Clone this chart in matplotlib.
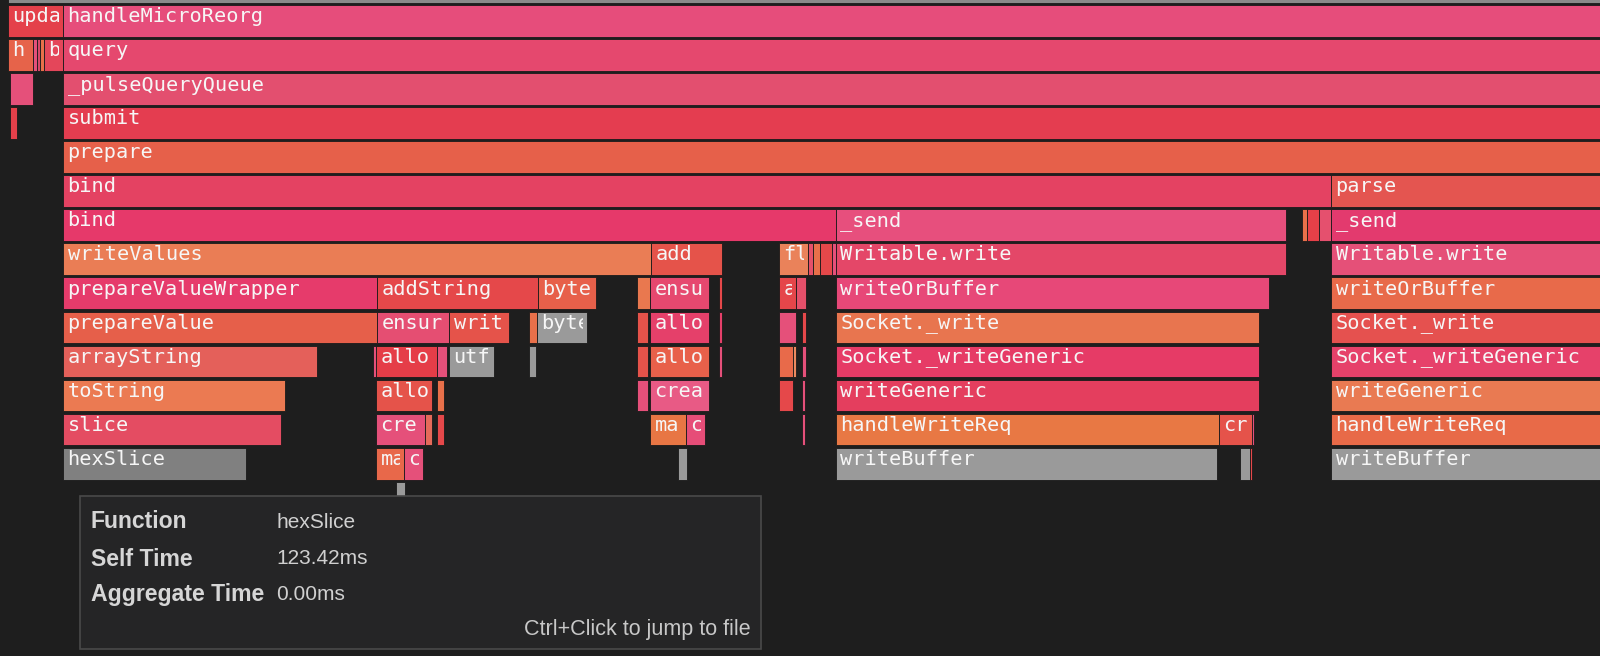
import math
import matplotlib
matplotlib.use("Agg")
import matplotlib.pyplot as plt
from matplotlib.patches import Rectangle

# flame chart frames: name, stack depth, start / end (ms), colour
names = [
    "",
    "updateState", "handleMicroReorg",
    "handle", "", "", "", "bind", "query",
    "", "_pulseQueryQueue",
    "", "submit",
    "prepare",
    "bind", "parse",
    "bind", "_send", "", "", "", "_send",
    "writeValues", "add", "flush", "", "", "", "", "Writable.write", "Writable.write",
    "prepareValueWrapper", "addString", "byteLength", "", "ensureCapacity", "", "alloc", "",
    "writeOrBuffer", "writeOrBuffer",
    "prepareValue", "ensureBuffer", "write", "", "byteLength", "", "allocate", "", "", "",
    "Socket._write", "Socket._write",
    "arrayString", "", "allocate", "", "utf8Write", "", "", "allocate", "", "", "", "",
    "Socket._writeGeneric", "Socket._writeGeneric",
    "toString", "allocate", "", "", "createPool", "", "", "writeGeneric", "writeGeneric",
    "slice", "createPool", "", "", "makeBuffer", "copy", "", "handleWriteReq", "createWriteReq", "",
    "handleWriteReq",
    "hexSlice", "makeBuffer", "copy", "", "writeBuffer", "", "", "writeBuffer",
    "",
]
depth = [
    -1,
    0, 0,
    1, 1, 1, 1, 1, 1,
    2, 2,
    3, 3,
    4,
    5, 5,
    6, 6, 6, 6, 6, 6,
    7, 7, 7, 7, 7, 7, 7, 7, 7,
    8, 8, 8, 8, 8, 8, 8, 8, 8, 8,
    9, 9, 9, 9, 9, 9, 9, 9, 9, 9, 9, 9,
    10, 10, 10, 10, 10, 10, 10, 10, 10, 10, 10, 10, 10, 10,
    11, 11, 11, 11, 11, 11, 11, 11, 11,
    12, 12, 12, 12, 12, 12, 12, 12, 12, 12, 12,
    13, 13, 13, 13, 13, 13, 13, 13,
    14,
]
start = [
    8,
    8, 63,
    8, 33, 37, 40, 44, 63,
    10, 63,
    10, 63,
    63,
    63, 1331,
    63, 836, 1302, 1307, 1319, 1331,
    63, 651, 779, 808, 813, 820, 832, 836, 1331,
    63, 377, 538, 637, 650, 719, 779, 796, 836, 1331,
    63, 377, 449, 529, 537, 637, 650, 719, 779, 802, 836, 1331,
    63, 373, 376, 437, 449, 529, 637, 650, 719, 779, 793, 802, 836, 1331,
    63, 376, 437, 637, 650, 779, 802, 836, 1331,
    63, 376, 425, 437, 650, 686, 802, 836, 1219, 1252, 1331,
    63, 376, 404, 678, 836, 1240, 1250, 1331,
    396,
]
end = [
    1600,
    63, 1600,
    33, 37, 40, 44, 63, 1600,
    33, 1600,
    17, 1600,
    1600,
    1331, 1600,
    836, 1286, 1307, 1319, 1331, 1600,
    651, 722, 808, 813, 820, 832, 836, 1286, 1600,
    377, 538, 596, 650, 709, 722, 796, 806, 1269, 1600,
    377, 449, 509, 537, 587, 648, 709, 722, 796, 806, 1259, 1600,
    317, 376, 437, 447, 494, 536, 648, 709, 722, 793, 796, 806, 1259, 1600,
    285, 432, 444, 648, 709, 793, 805, 1259, 1600,
    281, 425, 432, 444, 686, 705, 805, 1219, 1252, 1254, 1600,
    246, 404, 423, 687, 1217, 1250, 1252, 1600,
    405,
]
colors = [
    "#8a8a8a",
    "#e4404a", "#e64d7b",
    "#e6634a", "#e5507a", "#d8486a", "#e8704a", "#e4465a", "#e5486e",
    "#e5507a", "#e34f6f",
    "#e5404a", "#e43d50",
    "#e6604a",
    "#e44262", "#e45550",
    "#e6396a", "#e74f7d", "#e8704a", "#e64048", "#e5506e", "#e33a6e",
    "#ea7d55", "#e5534a", "#ea825a", "#e5506a", "#e8704a", "#e5484a", "#e5507a", "#e44768", "#e55078",
    "#e63b6b", "#e5484a", "#e7604a", "#e9784f", "#e6486f", "#e5484a", "#e5464a", "#e5506a",
    "#e74878", "#e86a4a",
    "#e65f4a", "#e54e72", "#e5534a", "#e8704a", "#9a9a9a", "#e5534a", "#e5406a", "#e5406a",
    "#e5507a", "#e5484a", "#e8754f", "#e5514f",
    "#e4605a", "#e5507a", "#e53d48", "#e5507a", "#9a9a9a", "#9a9a9a", "#e5534a", "#e8604a",
    "#e5507a", "#e86a4a", "#eb8a60", "#e5507a", "#e63b66", "#e6416a",
    "#eb7a52", "#e5534a", "#e8704a", "#e5507a", "#e85a85", "#e5484a", "#e5507a", "#e43e5e", "#e97a52",
    "#e44c62", "#e5507a", "#e56a5a", "#e5484a", "#e87644", "#e64d78", "#e5507a", "#e87844", "#e5534a",
    "#e5507a", "#e86a48",
    "#808080", "#e8684a", "#e5507a", "#9a9a9a", "#9a9a9a", "#9a9a9a", "#e5484a", "#9a9a9a",
    "#9a9a9a",
]

tip_labels = ["Function", "Self Time", "Aggregate Time"]
tip_values = ["hexSlice", "123.42ms", "0.00ms"]

bg = "#1e1e1e"
fig = plt.figure(figsize=(16, 6.56), dpi=100)
fig.patch.set_facecolor(bg)
ax = fig.add_axes([0, 0, 1, 1])
ax.set_facecolor(bg)
ax.set_xlim(0, 1600)
ax.set_ylim(19.16, -0.13)
ax.axis("off")

CHAR = 12.2   # advance of one mono glyph at this size, in chart units
PAD = 4.5
for n, d, s, e, c in zip(names, depth, start, end, colors):
    ax.add_patch(Rectangle((s, d + 0.03), e - s, 0.94, facecolor=c,
                           edgecolor="#1a1a1a", lw=0.6))
    if not n:
        continue
    room = (e - s) - 2 * PAD
    nvis = max(0, math.ceil((room - 4) / CHAR))
    if nvis == 0:
        continue
    clip = Rectangle((s, d), e - s - PAD, 1, transform=ax.transData)
    t = ax.text(s + PAD, d + 0.53, n[:nvis], color="#f6f6f6", fontsize=14.6,
                family="DejaVu Sans Mono", va="baseline", ha="left",
                clip_on=True)
    t.set_clip_path(clip)

# hover tooltip
W, H = 1600.0, 656.0
fig.add_artist(Rectangle((80 / W, 1 - 649 / H), (761 - 80) / W, (649 - 496) / H,
                         transform=fig.transFigure, facecolor="#252526",
                         edgecolor="#4a4a4a", lw=1.2, zorder=10))
row_y = [522, 559, 594]
for yy, lab, val in zip(row_y, tip_labels, tip_values):
    fig.text(91 / W, 1 - yy / H, lab, color="#d6d6d6", fontsize=16.6, fontweight="bold",
             family=["Liberation Sans", "DejaVu Sans"], va="center", zorder=11)
    fig.text(276 / W, 1 - yy / H, val, color="#d0d0d0", fontsize=15,
             family=["Liberation Sans", "DejaVu Sans"], va="center", zorder=11)
fig.text(751 / W, 1 - 630 / H, "Ctrl+Click to jump to file", color="#c8c8c8",
         fontsize=15.5, family=["Liberation Sans", "DejaVu Sans"], ha="right",
         va="center", zorder=11)

fig.savefig("out.png", dpi=100, facecolor=bg)
